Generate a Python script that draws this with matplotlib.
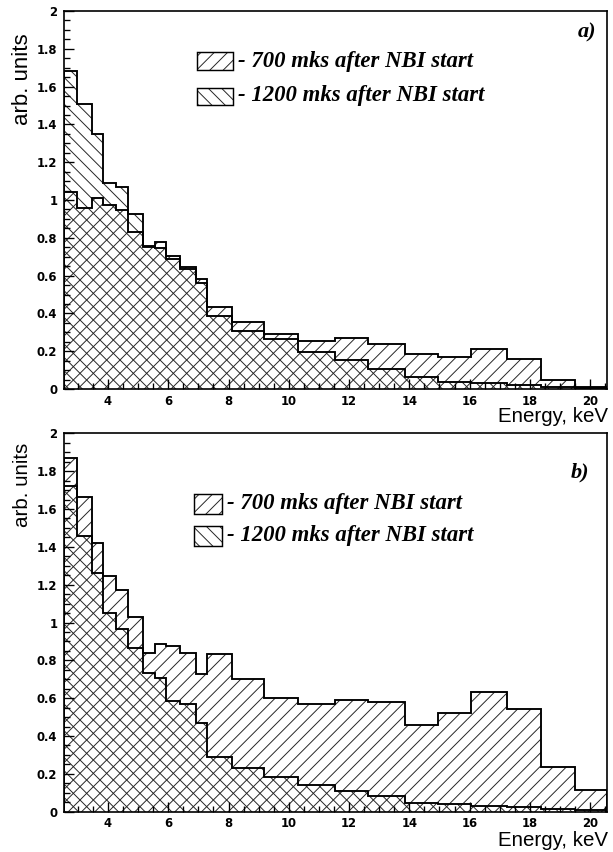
import matplotlib
matplotlib.use('Agg')
import matplotlib.pyplot as plt
from matplotlib.patches import Rectangle
from matplotlib.ticker import MultipleLocator, FuncFormatter

# ---------------- data ----------------
edges = [2.54, 2.97, 3.47, 3.83, 4.27, 4.66, 5.17, 5.56, 5.92, 6.39, 6.91, 7.30,
         8.11, 9.19, 10.30, 11.54, 12.64, 13.87, 14.94, 16.05, 17.25, 18.37, 19.50, 20.56]

a_700 = [1.04, 0.96, 1.01, 0.975, 0.947, 0.832, 0.75, 0.78, 0.704, 0.644, 0.580, 0.432,
         0.356, 0.289, 0.256, 0.272, 0.238, 0.183, 0.171, 0.212, 0.157, 0.046, 0.010]
a_1200 = [1.68, 1.506, 1.347, 1.088, 1.067, 0.926, 0.755, 0.745, 0.686, 0.635, 0.562, 0.388,
          0.308, 0.263, 0.194, 0.152, 0.106, 0.062, 0.039, 0.030, 0.021, 0.012, 0.005]

b_700 = [1.871, 1.665, 1.419, 1.247, 1.172, 1.031, 0.837, 0.885, 0.876, 0.837, 0.726, 0.833,
         0.700, 0.603, 0.568, 0.590, 0.580, 0.458, 0.523, 0.634, 0.543, 0.235, 0.115]
b_1200 = [1.721, 1.459, 1.260, 1.052, 0.965, 0.864, 0.731, 0.705, 0.585, 0.569, 0.467, 0.291,
          0.229, 0.185, 0.139, 0.109, 0.083, 0.048, 0.039, 0.030, 0.023, 0.016, 0.008]

legend_labels = ["- 700 mks after NBI start", "- 1200 mks after NBI start"]
panel_labels = ["a)", "b)"]
xlabel = "Energy, keV"
ylabel = "arb. units"

# ---------------- figure ----------------
W, H = 613, 852
DPI = 80
plt.rcParams['hatch.linewidth'] = 0.85
fig = plt.figure(figsize=(W / DPI, H / DPI), dpi=DPI)


def fx(px):
    return px / W


def fy(py):
    return 1 - py / H


SERIF_BI = dict(family='Liberation Serif', weight='bold', style='italic')
HATCH_COL = '#222222'


def panel(top, bottom, v700, v1200, plabel, plabel_xy, leg, ylab_size, ylab_top, xlab_y):
    ax = fig.add_axes([fx(64), fy(bottom), fx(607) - fx(64), (bottom - top) / H])
    ax.stairs(v700, edges, baseline=0, fill=True, hatch='//', facecolor='none',
              edgecolor=HATCH_COL, linewidth=0)
    ax.stairs(v1200, edges, baseline=0, fill=True, hatch='\\\\', facecolor='none',
              edgecolor=HATCH_COL, linewidth=0)
    ax.stairs(v700, edges, baseline=0, color='black', linewidth=1.7)
    ax.stairs(v1200, edges, baseline=0, color='black', linewidth=1.7)
    ax.set_xlim(edges[0], edges[-1])
    ax.set_ylim(0, 2)
    ax.xaxis.set_major_locator(MultipleLocator(2))
    ax.xaxis.set_minor_locator(MultipleLocator(0.5))
    ax.yaxis.set_major_locator(MultipleLocator(0.2))
    ax.yaxis.set_minor_locator(MultipleLocator(0.05))
    fmt = FuncFormatter(lambda v, p: f'{v:g}')
    ax.xaxis.set_major_formatter(fmt)
    ax.yaxis.set_major_formatter(fmt)
    ax.tick_params(which='both', direction='in', top=False, right=False, width=1.2)
    ax.tick_params(which='major', length=9)
    ax.tick_params(which='minor', length=5)
    ax.tick_params(axis='y', pad=6)
    ax.tick_params(axis='x', pad=5)
    for lab in ax.get_xticklabels() + ax.get_yticklabels():
        lab.set_fontfamily('DejaVu Sans')
        lab.set_fontweight('bold')
        lab.set_fontsize(10.5)
    for s in ax.spines.values():
        s.set_linewidth(1.5)

    # panel label
    fig.text(fx(plabel_xy[0]), fy(plabel_xy[1]), plabel, ha='right', va='center',
             fontsize=20, **SERIF_BI)
    # legend
    (bx0, bx1, bh, tx, ys) = leg
    hatches = ['//', '\\\\']
    for i, yc in enumerate(ys):
        rect_kw = dict(xy=(fx(bx0), fy(yc + bh / 2)), width=fx(bx1) - fx(bx0),
                       height=bh / H, transform=fig.transFigure)
        fig.patches.append(Rectangle(fill=False, hatch=hatches[i], edgecolor=HATCH_COL,
                                     linewidth=0, **rect_kw))
        fig.patches.append(Rectangle(fill=False, edgecolor='black', linewidth=1.3, **rect_kw))
        fig.text(fx(tx), fy(yc), legend_labels[i], ha='left', va='center',
                 fontsize=20.5, **SERIF_BI)
    # axis titles
    fig.text(fx(23), fy(ylab_top), ylabel, rotation=90, ha='center', va='top',
             fontsize=ylab_size, family='Liberation Sans')
    fig.text(fx(608), fy(xlab_y), xlabel, ha='right', va='center',
             fontsize=18.5, family='Liberation Sans')
    return ax


panel(11, 389, a_700, a_1200, panel_labels[0], (596, 32),
      (197, 233, 17, 238, [61, 96]), 20, 33, 417)
panel(433.3, 811.7, b_700, b_1200, panel_labels[1], (589, 472),
      (194, 222, 20, 227, [504, 536]), 18.5, 443, 840)

fig.savefig('out.png', dpi=DPI)
